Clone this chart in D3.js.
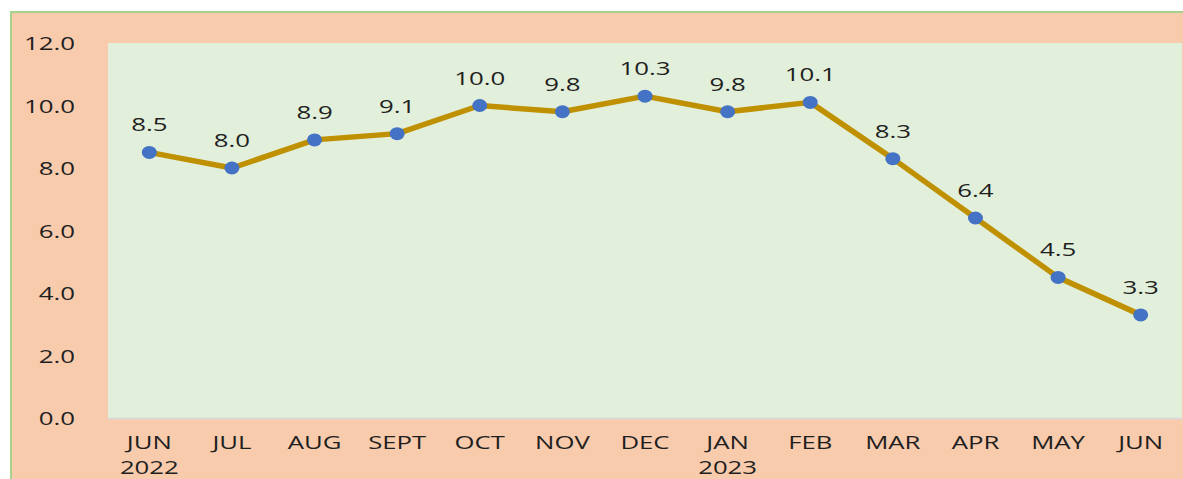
<!DOCTYPE html>
<html><head><meta charset="utf-8">
<script src="https://cdn.jsdelivr.net/npm/d3@7"></script>
<style>body{margin:0;background:#fff;}svg{display:block;}</style>
</head><body>
<svg id="c" width="1183" height="479"></svg>
<script>
const months = ["JUN","JUL","AUG","SEPT","OCT","NOV","DEC","JAN","FEB","MAR","APR","MAY","JUN"];
const years  = ["2022","","","","","","","2023","","","","",""];
const values = [8.5,8.0,8.9,9.1,10.0,9.8,10.3,9.8,10.1,8.3,6.4,4.5,3.3];
const yTicks = [0,2,4,6,8,10,12];

const svg = d3.select("#c");
const font = "'Open Sans', sans-serif";
const FS = 19, SX = 1.36, TXT = "#1f1f1f";
// outer background
svg.append("rect").attr("x",11).attr("y",12).attr("width",1172).attr("height",467).attr("fill","#f8cbad");
svg.append("line").attr("x1",10).attr("x2",1183).attr("y1",12).attr("y2",12).attr("stroke","#a9d18e").attr("stroke-width",2);
svg.append("line").attr("x1",11).attr("x2",11).attr("y1",11).attr("y2",479).attr("stroke","#a9d18e").attr("stroke-width",2);

const L=108,R=1182,T=43,B=418;
svg.append("rect").attr("x",L).attr("y",T).attr("width",R-L).attr("height",B-T).attr("fill","#e2efda");
svg.append("line").attr("x1",L).attr("x2",R).attr("y1",B+0.5).attr("y2",B+0.5).attr("stroke","#d9d9d9").attr("stroke-width",2);

const x = d3.scaleBand().domain(d3.range(values.length)).range([L,R]);
const y = d3.scaleLinear().domain([0,12]).range([B,T]);

function styleText(sel, fs=FS, sx=SX){
  sel.attr("font-family",font).attr("font-size",fs).attr("fill",TXT).attr("transform",`scale(${sx},1)`);
}

const yAxis = svg.append("g").attr("transform",`translate(75,0)`)
  .call(d3.axisLeft(y).tickValues(yTicks).tickFormat(d3.format(".1f")).tickSize(0).tickPadding(0));
yAxis.select(".domain").remove();
yAxis.selectAll(".tick text").call(styleText).attr("x",0).attr("dy","0.35em");

const xAxis = svg.append("g").attr("transform",`translate(0,${B})`)
  .call(d3.axisBottom(x).tickFormat(i=>months[i]).tickSize(0).tickPadding(0));
xAxis.select(".domain").remove();
xAxis.selectAll(".tick text").call(styleText, 18, 1.43).attr("dy",null).attr("y",31);
xAxis.selectAll(".tick text").filter(i=>years[i]).append("tspan").attr("x",0).attr("dy",25).text(i=>years[i]);

const cx = i => x(i)+x.bandwidth()/2;
svg.append("path").datum(values)
  .attr("d", d3.line().x((d,i)=>cx(i)).y(d=>y(d)))
  .attr("fill","none").attr("stroke","#bf9000").attr("stroke-width",5.5).attr("stroke-linejoin","round");
svg.selectAll("ellipse.pt").data(values).enter().append("ellipse").attr("class","pt")
  .attr("cx",(d,i)=>cx(i)).attr("cy",d=>y(d)).attr("rx",7.5).attr("ry",6.5).attr("fill","#4472c4");
svg.selectAll("g.lbl").data(values).enter().append("g").attr("class","lbl")
  .attr("transform",(d,i)=>`translate(${cx(i)},${y(d)-21})`)
  .append("text").attr("text-anchor","middle").call(styleText)
  .text(d=>d3.format(".1f")(d));
</script>
</body></html>
